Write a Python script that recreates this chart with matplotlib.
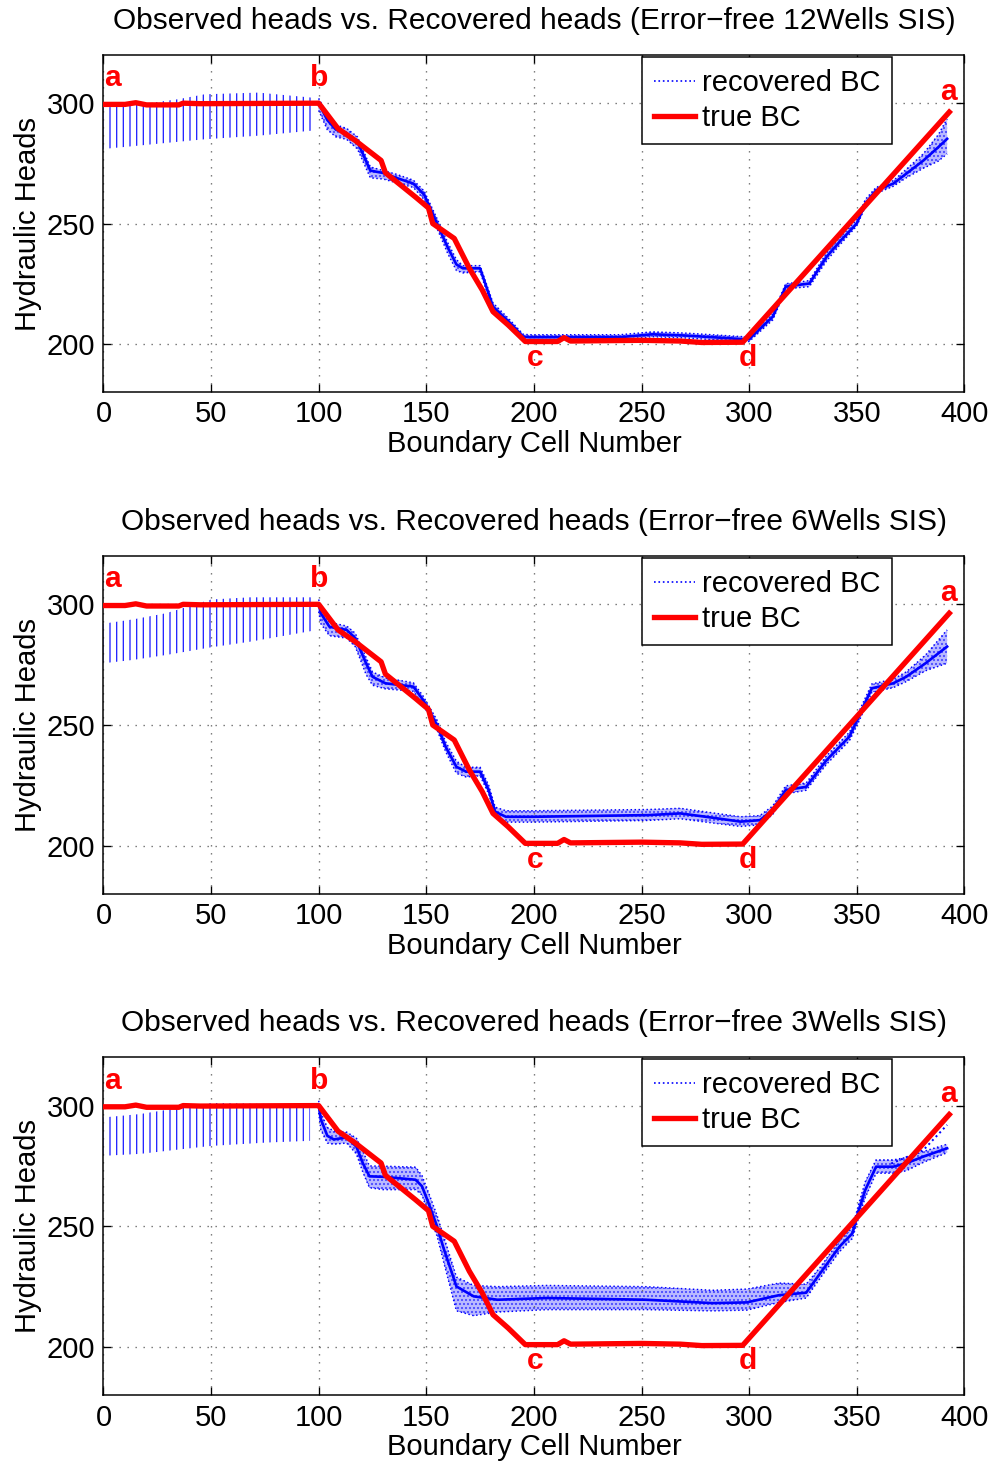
import matplotlib
matplotlib.use('Agg')
import matplotlib.pyplot as plt
from matplotlib.lines import Line2D

plt.rcParams['font.family'] = ['Liberation Sans', 'DejaVu Sans']
plt.rcParams['hatch.linewidth'] = 0.8

# true boundary condition (same in all panels)
true_x = [0, 10, 15, 20, 35, 37, 45, 100, 109, 117, 129, 131, 145, 151, 153, 163, 170, 176,
          181, 188, 196, 211, 214, 217, 250, 268, 278, 297, 393]
true_y = [299.5, 299.5, 300.2, 299.3, 299.3, 300, 299.8, 300, 289.4, 284.5, 276.2, 271.1, 261,
          256.5, 250, 243.8, 231.4, 222.4, 213.4, 207.9, 201, 201, 202.6, 201.2, 201.5, 201.2,
          200.6, 200.7, 296.3]

titles = ["Observed heads vs. Recovered heads (Error\u2212free 12Wells SIS)",
          "Observed heads vs. Recovered heads (Error\u2212free 6Wells SIS)",
          "Observed heads vs. Recovered heads (Error\u2212free 3Wells SIS)"]

# recovered BC, spread of realisations between cells 0 and 100
w12_ab_x = [0, 12, 35, 47, 72, 97]
w12_ab_lo = [281, 282, 284, 285, 286.5, 288.6]
w12_ab_hi = [298.2, 298.9, 301.7, 303.7, 304.4, 302.3]

w6_ab_x = [0, 14, 29, 39, 50, 68, 97]
w6_ab_lo = [275.6, 277, 279, 280.5, 282.2, 284.5, 289]
w6_ab_hi = [292, 293.8, 296.3, 299, 302, 302.9, 302.9]

w3_ab_x = [0, 17, 37, 50, 76, 96]
w3_ab_lo = [279.2, 280, 282, 283.3, 284.7, 285.4]
w3_ab_hi = [295.1, 296.5, 299.3, 301.1, 300.7, 298.9]

# recovered BC from cell 100 to the end: middle and spread
w12_x = [100, 104, 108, 113, 118, 124, 130, 136, 144, 149, 155, 160, 164, 167, 175, 181, 189,
         195, 198, 240, 255, 270, 297, 300, 311, 317, 322, 328, 336, 342, 350, 354, 359, 367,
         373, 381, 388, 392]
w12_mid = [300, 293, 289, 287.5, 284, 272, 271, 269, 266.6, 262, 250, 240, 233, 231.4, 231.4,
           215.5, 208.6, 203, 202.8, 202.8, 204, 203.5, 202, 202, 211.3, 223.8, 224.4, 225.1,
           236.2, 242.4, 250, 258.3, 263.8, 266.6, 270.7, 276.2, 281.8, 285.2]
w12_lo = [297, 289, 286, 285, 281, 269, 268.5, 267, 265, 260, 248, 237.5, 230.5, 229.5, 230,
          214, 207.5, 201.5, 201.8, 201.8, 203, 202.5, 201, 201, 210, 222.5, 223.3, 223.8,
          234.5, 241, 249, 257, 262.5, 265.5, 269, 273, 276, 279]
w12_hi = [302, 295, 291, 289.5, 286, 273.5, 272, 270.5, 268, 263.5, 252, 242, 235, 232.5, 232.5,
          217, 209.8, 204, 203.8, 203.8, 205, 204.5, 203, 203, 212.5, 225, 225.5, 226.3, 237.8,
          244, 251.5, 260, 265, 267.8, 272.5, 279, 287, 293.5]

w6_x = [100, 101, 105, 113, 117, 122, 125, 131, 144, 148.5, 155, 159, 164, 168.5, 175, 179, 182,
        187, 199, 253, 268, 280, 296, 305, 311, 317, 326.5, 336, 346.6, 351, 357, 367, 373, 382,
        392]
w6_mid = [300, 296.3, 290.7, 289.4, 286, 275.6, 270, 267.3, 265.9, 260.4, 250, 241, 232.7,
          230.7, 230.7, 223, 214.1, 212, 212, 212.7, 213.4, 212, 210, 210.6, 214.8, 223.1,
          224.4, 235.5, 245.2, 253.5, 265.2, 267.3, 270, 275.6, 282.5]
w6_lo = [297, 292, 287, 286, 282.5, 271, 266.5, 265, 264, 258.5, 248, 239, 230, 228.5, 229,
         221.5, 212.5, 209.8, 209.8, 210.5, 211.2, 209.8, 208, 208.7, 213, 221.5, 223, 233.8,
         243.5, 251.5, 263.5, 265.5, 268, 272.5, 275.6]
w6_hi = [302, 298.5, 292.5, 291, 288, 278, 272, 269.5, 267.5, 262, 252, 243, 235, 232.5, 232.5,
         225, 216, 214.5, 214.5, 215, 215.5, 214, 212, 212.5, 216.5, 224.8, 226, 237.3, 247,
         255.5, 267, 269, 272, 279, 289.4]

w3_x = [100, 101, 104, 107, 113, 117.5, 120.5, 123.6, 130, 145, 148, 151, 155, 158, 164, 172,
        183, 206, 252, 283, 299, 314, 326.5, 333, 342, 348, 351, 354, 359, 367, 373, 381, 392]
w3_mid = [300, 294.4, 287.5, 286, 286.8, 283, 276.2, 270.7, 270.5, 269.3, 266.6, 259.7, 250,
          241, 225.1, 221, 219.6, 220.3, 219.6, 218.2, 218.5, 221.5, 222.5, 230.5, 241.6, 247.1,
          256.8, 265.1, 274.7, 274.7, 276.1, 278.9, 282.3]
w3_lo = [297, 290, 284.5, 284, 284.5, 280, 272.5, 266, 265.2, 265.2, 263, 255.5, 246, 235.5,
         215, 213, 214.5, 215.5, 215.5, 215, 215.3, 218.5, 220.3, 228.5, 239.5, 245, 254, 262,
         272, 272, 273, 276.5, 280.5]
w3_hi = [302, 297, 291, 289.5, 289, 286.5, 281, 275, 274.9, 274.5, 271, 264, 254.5, 246, 229,
         225.5, 225, 225.5, 225, 223.5, 224, 226.5, 226, 233, 244, 249.5, 259.5, 268.5, 277.5,
         277.5, 278.5, 281, 284]
w3_branch_x = [366, 381, 392]
w3_branch_y = [276, 281.6, 292]

panels = [
    (titles[0], w12_ab_x, w12_ab_lo, w12_ab_hi, w12_x, w12_mid, w12_lo, w12_hi, None),
    (titles[1], w6_ab_x, w6_ab_lo, w6_ab_hi, w6_x, w6_mid, w6_lo, w6_hi, None),
    (titles[2], w3_ab_x, w3_ab_lo, w3_ab_hi, w3_x, w3_mid, w3_lo, w3_hi,
     (w3_branch_x, w3_branch_y)),
]

letters = ['a', 'b', 'c', 'd', 'a']
letter_x = [4, 100, 200.5, 299.5, 392.5]
letter_y = [307, 307, 191, 191, 301.5]

fig = plt.figure(figsize=(8.3, 12.2), dpi=120)
bottoms = [0.7322, 0.3893, 0.0469]
heights = [0.2302, 0.2309, 0.2309]
fs = 17.5

for k, (title, abx, ablo, abhi, rx, rmid, rlo, rhi, branch) in enumerate(panels):
    ax = fig.add_axes([0.1039, bottoms[k], 0.8643, heights[k]])

    # a-b stretch: many realisations give vertical dotted strokes
    ax.fill_between(abx, ablo, abhi, facecolor='none', edgecolor='blue',
                    hatch='|||', linewidth=0, alpha=0.85)
    ax.fill_between(rx, rlo, rhi, facecolor=(0.55, 0.55, 1.0), edgecolor='blue',
                    hatch='.....', linewidth=0, alpha=0.6)
    ax.plot(rx, rlo, color='blue', ls=':', lw=0.9)
    ax.plot(rx, rhi, color='blue', ls=':', lw=0.9)
    ax.plot(rx, rmid, color='blue', lw=1.6)
    if branch is not None:
        ax.plot(branch[0], branch[1], color='blue', ls=':', lw=1.2)

    ax.plot(true_x, true_y, color='red', lw=3.2, zorder=5)

    for lt, lx, ly in zip(letters, letter_x, letter_y):
        ax.text(lx, ly, lt, color='red', fontsize=18, fontweight='bold',
                ha='center', va='baseline', zorder=6)

    ax.set_xlim(0, 400)
    ax.set_ylim(180, 320)
    ax.set_xticks(range(0, 401, 50))
    ax.set_yticks([200, 250, 300])
    ax.grid(True, linestyle=(0, (1, 5)), color='#666666', linewidth=0.8)
    ax.tick_params(direction='in', top=True, right=True, length=4.8, width=0.8,
                   labelsize=fs, pad=5)
    for sp in ax.spines.values():
        sp.set_linewidth(0.9)

    ax.set_title(title, fontsize=17.9, y=1.101, pad=0, va='center')
    ax.set_xlabel('Boundary Cell Number', fontsize=fs)
    ax.xaxis.set_label_coords(0.5, -0.154)
    ax.xaxis.label.set_va('center')
    ax.set_ylabel('Hydraulic Heads', fontsize=fs)
    ax.yaxis.set_label_coords(-0.0877, 0.5)
    ax.yaxis.label.set_va('center')

    handles = [Line2D([], [], color='blue', ls=':', lw=1.0),
               Line2D([], [], color='red', lw=3.2)]
    leg = ax.legend(handles, ['recovered BC', 'true BC'], loc='upper left',
                    bbox_to_anchor=(0.6256, 0.994), borderaxespad=0, fancybox=False,
                    edgecolor='black', fontsize=fs, handlelength=1.4,
                    handletextpad=0.25, labelspacing=0.25, borderpad=0.4,
                    framealpha=1)
    leg.get_frame().set_linewidth(0.9)
    leg.set_zorder(10)

fig.savefig('out.png', dpi=120)
